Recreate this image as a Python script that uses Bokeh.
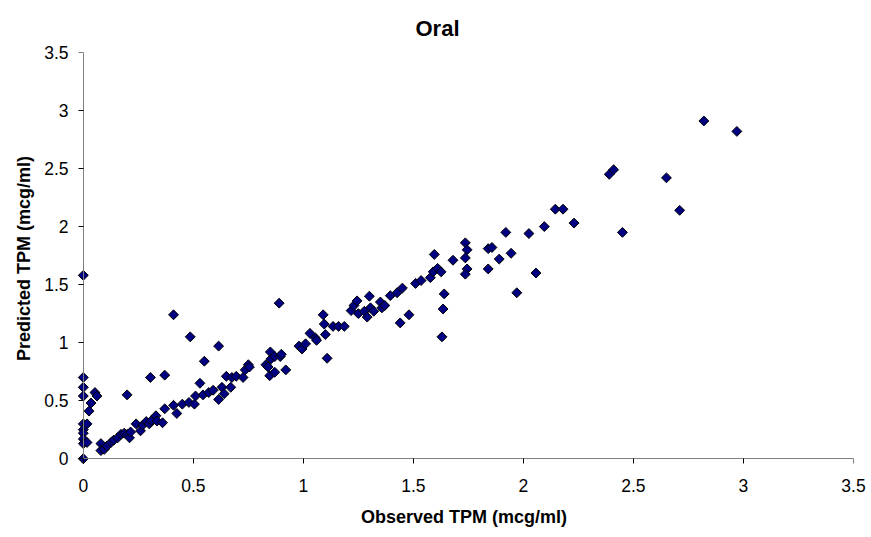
import math
from bokeh.plotting import figure
from bokeh.models import FixedTicker, Title, LinearAxis
from bokeh.embed import file_html
from bokeh.resources import INLINE

observed = [0, 0, 0, 0, 0, 0, 0, 0, 0, 0,
            0.017, 0.017, 0.026, 0.035, 0.053, 0.062,
            0.08, 0.08, 0.095, 0.108, 0.126, 0.138, 0.156, 0.171, 0.186, 0.199, 0.20, 0.21, 0.215,
            0.24, 0.26, 0.27, 0.286, 0.305, 0.30, 0.31, 0.33, 0.335, 0.36, 0.37, 0.37,
            0.41, 0.41, 0.425, 0.45, 0.486, 0.48, 0.505, 0.51, 0.53, 0.55, 0.544, 0.57, 0.59, 0.615, 0.615,
            0.63, 0.64, 0.65, 0.67, 0.675, 0.695, 0.726, 0.736, 0.75, 0.755,
            0.83, 0.85, 0.853, 0.84, 0.87, 0.847, 0.87, 0.89, 0.895, 0.90, 0.92, 0.98, 0.994, 1.01, 1.03,
            1.055, 1.06, 1.09, 1.095, 1.10, 1.108, 1.135, 1.16, 1.186, 1.217, 1.23, 1.244, 1.25, 1.277,
            1.29, 1.30, 1.305, 1.32, 1.35, 1.357, 1.37, 1.395, 1.426, 1.44,
            1.45, 1.48, 1.51, 1.535, 1.577, 1.59, 1.595, 1.61, 1.626, 1.64, 1.635, 1.63, 1.68, 1.736,
            1.744, 1.736, 1.744, 1.736, 1.84, 1.857, 1.84, 1.89, 1.92, 1.944, 1.97, 2.025, 2.057, 2.095,
            2.145, 2.18, 2.23,
            2.39, 2.41, 2.65, 2.45, 2.71, 2.82, 2.97]
predicted = [1.58, 0.70, 0.615, 0.54, 0.30, 0.25, 0.22, 0.17, 0.13, 0.0,
             0.30, 0.14, 0.41, 0.48, 0.57, 0.54,
             0.13, 0.07, 0.08, 0.11, 0.14, 0.16, 0.18, 0.21, 0.22, 0.55, 0.21, 0.18, 0.23,
             0.30, 0.24, 0.29, 0.32, 0.70, 0.30, 0.33, 0.37, 0.325, 0.31, 0.72, 0.43,
             1.24, 0.46, 0.39, 0.47, 1.05, 0.485, 0.47, 0.54, 0.65, 0.84, 0.55, 0.57, 0.59, 0.97, 0.51,
             0.615, 0.56, 0.71, 0.615, 0.70, 0.71, 0.70, 0.765, 0.81, 0.79,
             0.81, 0.92, 0.86, 0.79, 0.88, 0.715, 0.745, 1.34, 0.88, 0.90, 0.765, 0.97, 0.945, 0.99, 1.08,
             1.04, 1.02, 1.24, 1.16, 1.07, 0.865, 1.14, 1.14, 1.14, 1.276, 1.32, 1.36, 1.25, 1.27,
             1.22, 1.40, 1.30, 1.27, 1.35, 1.30, 1.32, 1.405, 1.43, 1.17,
             1.47, 1.24, 1.51, 1.535, 1.56, 1.61, 1.76, 1.64, 1.61, 1.42, 1.29, 1.05, 1.71, 1.86,
             1.80, 1.73, 1.635, 1.59, 1.81, 1.82, 1.635, 1.72, 1.95, 1.77, 1.43, 1.94, 1.60, 2.00,
             2.15, 2.15, 2.03,
             2.45, 2.49, 2.42, 1.95, 2.14, 2.91, 2.82]

tick_values = [0, 0.5, 1, 1.5, 2, 2.5, 3, 3.5]
tick_labels = ["0", "0.5", "1", "1.5", "2", "2.5", "3", "3.5"]

FONT = "Liberation Sans"

# frame extends slightly below/left of 0 so markers on the axes are not clipped;
# axis lines/ticks are pinned at 0, labels come from separate label-only axes
p = figure(width=871, height=537, output_backend="svg", toolbar_location=None,
           x_range=(-0.04, 3.5), y_range=(-0.05, 3.5),
           x_axis_type=None, y_axis_type=None,
           min_border_left=74, min_border_right=18, min_border_top=52, min_border_bottom=73)
p.title = Title(text="Oral", align="left", offset=341, standoff=24,
                text_font=FONT, text_font_size="22px", text_font_style="bold", text_color="black")
p.outline_line_color = None
p.background_fill_color = "white"
p.border_fill_color = "white"

label_map = dict(zip(tick_values, tick_labels))
blank_map = {t: "" for t in tick_values}


def label_axis(axis_label, standoff, label_standoff):
    ax = LinearAxis(ticker=FixedTicker(ticks=tick_values, minor_ticks=[]),
                    major_label_overrides=label_map, axis_label=axis_label)
    ax.axis_line_color = None
    ax.major_tick_line_color = None
    ax.minor_tick_line_color = None
    ax.major_tick_in = 0
    ax.major_tick_out = 0
    ax.major_label_standoff = standoff
    ax.major_label_text_font = FONT
    ax.major_label_text_font_size = "17.5px"
    ax.major_label_text_color = "black"
    ax.axis_label_standoff = label_standoff
    ax.axis_label_text_font = FONT
    ax.axis_label_text_font_size = "18px"
    ax.axis_label_text_font_style = "bold"
    ax.axis_label_text_color = "black"
    return ax


def line_axis():
    ax = LinearAxis(ticker=FixedTicker(ticks=tick_values, minor_ticks=[]),
                    major_label_overrides=blank_map, fixed_location=0, bounds=(0, 3.5))
    ax.axis_line_color = "#808080"
    ax.axis_line_width = 1
    ax.major_tick_line_color = "#000000"
    ax.minor_tick_line_color = None
    ax.major_tick_in = 0
    ax.major_tick_out = 5
    ax.major_label_standoff = 0
    ax.major_label_text_font_size = "1px"
    return ax


p.add_layout(label_axis("Observed TPM (mcg/ml)", 14, 12), "below")
p.add_layout(line_axis(), "below")
p.add_layout(label_axis("Predicted TPM (mcg/ml)", 6, 7), "left")
p.add_layout(line_axis(), "left")

p.scatter(observed, predicted, marker="square", angle=math.pi / 4, size=7,
          fill_color="#000080", line_color="black", line_width=1)

open("out.html", "w").write(file_html(p, INLINE))
